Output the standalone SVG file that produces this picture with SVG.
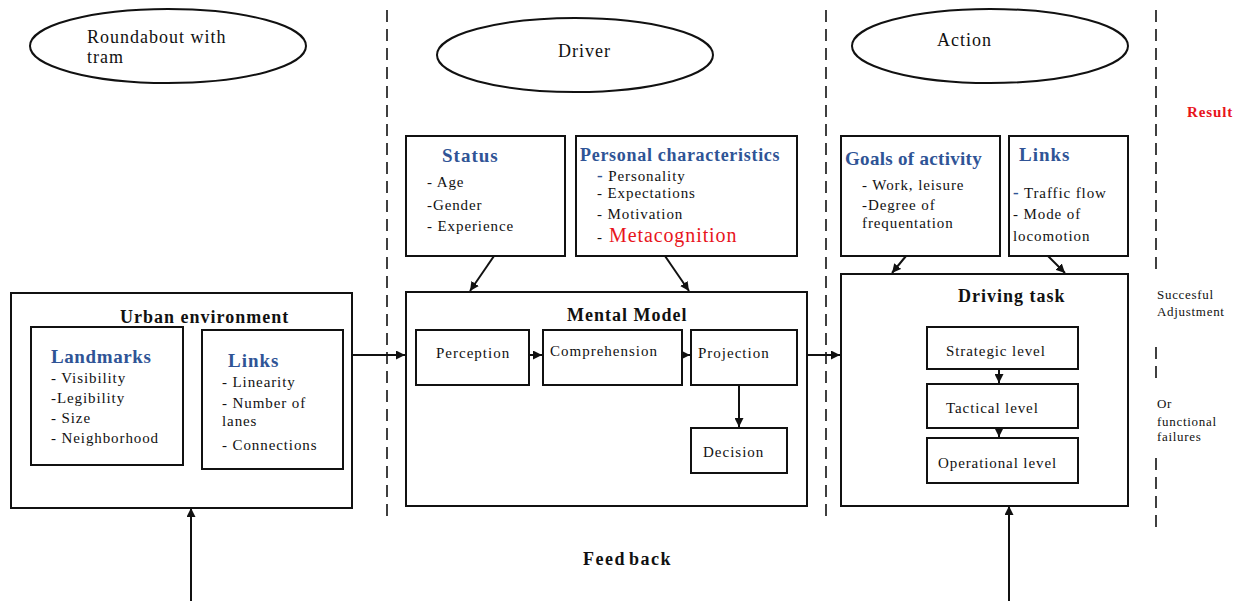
<svg xmlns="http://www.w3.org/2000/svg" width="1244" height="601" viewBox="0 0 1244 601">
<style>
text{font-family:"Liberation Serif","Times New Roman",serif;fill:#111;}
.box{fill:none;stroke:#111;stroke-width:2;}
.ell{fill:#fff;stroke:#111;stroke-width:2;}
.t17{font-size:18px;letter-spacing:1px;}
.item{font-size:15px;letter-spacing:0.9px;}
.lbl{font-size:15px;letter-spacing:1px;}
.head{font-size:18px;font-weight:bold;letter-spacing:1px;}
.blue{font-size:19px;font-weight:bold;fill:#2F5496;letter-spacing:1px;}
.small{font-size:13px;letter-spacing:0.7px;}
.dash{stroke:#111;stroke-width:1.6;stroke-dasharray:12 7;fill:none;}
.conn{stroke:#111;stroke-width:2;fill:none;marker-end:url(#ah);}
.bd{fill:#2F5496;font-weight:bold;font-size:17px;}
</style>
<defs>
<marker id="ah" viewBox="0 0 10 10" refX="10" refY="5" markerWidth="9" markerHeight="9" markerUnits="userSpaceOnUse" orient="auto"><path d="M0,0 L10,5 L0,10 z" fill="#111"/></marker>
</defs>
<rect width="1244" height="601" fill="#fff"/>

<g id="separators">
<line class="dash" x1="387" y1="10" x2="387" y2="517"/>
<line class="dash" x1="826" y1="10" x2="826" y2="517"/>
<line class="dash" x1="1156" y1="10" x2="1156" y2="274"/>
<line class="dash" x1="1156" y1="347" x2="1156" y2="385"/>
<line class="dash" x1="1156" y1="458" x2="1156" y2="528"/>
</g>

<g id="roundabout">
<ellipse class="ell" cx="168" cy="46" rx="138" ry="37"/>
<text class="t17" x="87" y="43">Roundabout with</text>
<text class="t17" x="87" y="63">tram</text>
</g>
<g id="driver">
<ellipse class="ell" cx="575" cy="55" rx="138" ry="37"/>
<text class="t17" x="558" y="57">Driver</text>
</g>
<g id="action">
<ellipse class="ell" cx="990" cy="46" rx="138" ry="37"/>
<text class="t17" x="937" y="46">Action</text>
</g>

<g id="result">
<text x="1187" y="117" style="font-size:15px;font-weight:bold;fill:#e8141b;letter-spacing:0.9px">Result</text>
</g>
<g id="outcome-success">
<text class="small" x="1157" y="299">Succesful</text>
<text class="small" x="1157" y="316">Adjustment</text>
</g>
<g id="outcome-failure">
<text class="small" x="1157" y="408">Or</text>
<text class="small" x="1157" y="426">functional</text>
<text class="small" x="1157" y="441">failures</text>
</g>

<g id="urban-environment">
<rect class="box" x="11" y="293" width="341" height="215"/>
<text class="head" x="120" y="323">Urban environment</text>
</g>
<g id="landmarks">
<rect class="box" x="31" y="327" width="152" height="138"/>
<text class="blue" x="51" y="363" style="letter-spacing:0.6px">Landmarks</text>
<text class="item" x="51" y="383">- Visibility</text>
<text class="item" x="51" y="403">-Legibility</text>
<text class="item" x="51" y="423">- Size</text>
<text class="item" x="51" y="443">- Neighborhood</text>
</g>
<g id="links-env">
<rect class="box" x="202" y="330" width="141" height="139"/>
<text class="blue" x="228" y="367">Links</text>
<text class="item" x="222" y="387">- Linearity</text>
<text class="item" x="222" y="408">- Number of</text>
<text class="item" x="222" y="426">lanes</text>
<text class="item" x="222" y="450">- Connections</text>
</g>

<g id="status">
<rect class="box" x="406" y="136" width="159" height="120"/>
<text class="blue" x="442" y="162">Status</text>
<text class="item" x="427" y="187">- Age</text>
<text class="item" x="427" y="210">-Gender</text>
<text class="item" x="427" y="231">- Experience</text>
</g>
<g id="personal-characteristics">
<rect class="box" x="576" y="136" width="221" height="120"/>
<text class="blue" x="580" y="161" style="font-size:18px;letter-spacing:0.7px">Personal characteristics</text>
<text class="item" x="597" y="181"><tspan class="bd">-</tspan> Personality</text>
<text class="item" x="597" y="198">- Expectations</text>
<text class="item" x="597" y="219">- Motivation</text>
<text class="item" x="597" y="242">- <tspan style="font-size:20px;fill:#e8141b" x="609">Metacognition</tspan></text>
</g>

<g id="mental-model">
<rect class="box" x="406" y="292" width="401" height="214"/>
<text class="head" x="567" y="321">Mental Model</text>
</g>
<g id="perception">
<rect class="box" x="416" y="330" width="113" height="55"/>
<text class="lbl" x="436" y="358">Perception</text>
</g>
<g id="comprehension">
<rect class="box" x="543" y="330" width="139" height="55"/>
<text class="lbl" x="550" y="356">Comprehension</text>
</g>
<g id="projection">
<rect class="box" x="691" y="330" width="106" height="55"/>
<text class="lbl" x="698" y="358">Projection</text>
</g>
<g id="decision">
<rect class="box" x="691" y="428" width="96" height="45"/>
<text class="lbl" x="703" y="457">Decision</text>
</g>

<g id="goals-of-activity">
<rect class="box" x="841" y="136" width="159" height="120"/>
<text class="blue" x="845" y="165" style="letter-spacing:0.3px">Goals of activity</text>
<text class="item" x="862" y="190">- Work, leisure</text>
<text class="item" x="862" y="210">-Degree of</text>
<text class="item" x="862" y="228">frequentation</text>
</g>
<g id="links-action">
<rect class="box" x="1009" y="136" width="119" height="120"/>
<text class="blue" x="1019" y="161">Links</text>
<text class="item" x="1013" y="198"><tspan class="bd">-</tspan> Traffic  flow</text>
<text class="item" x="1013" y="219">- Mode of</text>
<text class="item" x="1013" y="241">locomotion</text>
</g>

<g id="driving-task">
<rect class="box" x="841" y="274" width="287" height="232"/>
<text class="head" x="958" y="302">Driving task</text>
</g>
<g id="strategic-level">
<rect class="box" x="927" y="327" width="151" height="42"/>
<text class="item" x="946" y="356">Strategic level</text>
</g>
<g id="tactical-level">
<rect class="box" x="927" y="384" width="151" height="44"/>
<text class="item" x="946" y="413">Tactical level</text>
</g>
<g id="operational-level">
<rect class="box" x="927" y="438" width="151" height="45"/>
<text class="item" x="938" y="468">Operational level</text>
</g>

<g id="feedback">
<text x="583" y="565" style="font-size:18px;font-weight:bold;letter-spacing:1.5px;word-spacing:-3px">Feed back</text>
</g>

<g id="connectors">
<line class="conn" x1="352" y1="355" x2="405" y2="355"/>
<line class="conn" x1="494" y1="256" x2="470" y2="291"/>
<line class="conn" x1="665" y1="256" x2="689" y2="291"/>
<line class="conn" x1="529" y1="355" x2="542" y2="355"/>
<line class="conn" x1="682" y1="355" x2="690" y2="355"/>
<line class="conn" x1="739" y1="385" x2="739" y2="427"/>
<line class="conn" x1="807" y1="355" x2="840" y2="355"/>
<line class="conn" x1="906" y1="256" x2="892" y2="273"/>
<line class="conn" x1="1048" y1="256" x2="1065" y2="273"/>
<line class="conn" x1="999" y1="369" x2="999" y2="383"/>
<line class="conn" x1="999" y1="428" x2="999" y2="437"/>
<line class="conn" x1="191" y1="601" x2="191" y2="508"/>
<line class="conn" x1="1009" y1="601" x2="1009" y2="506"/>
</g>
</svg>
